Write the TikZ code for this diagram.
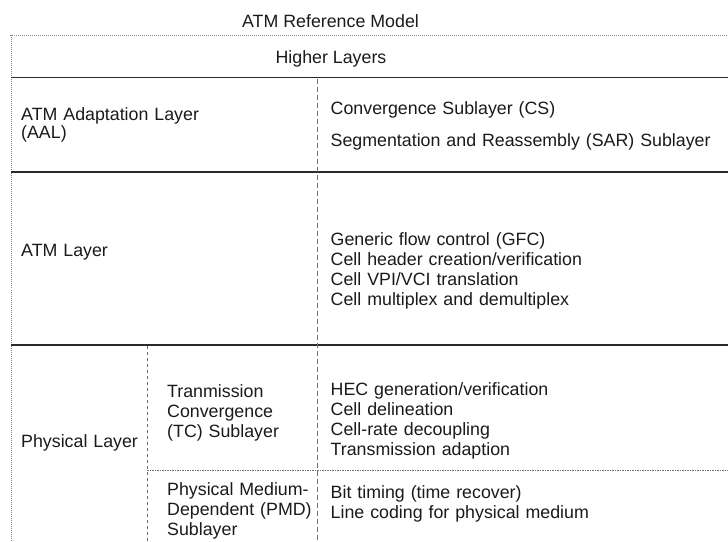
\documentclass[tikz,border=0pt]{standalone}
\usepackage{fontspec}
\setmainfont{Liberation Sans}
\definecolor{ink}{HTML}{1A1A1A}
\definecolor{rulecol}{HTML}{2A2A2A}
\definecolor{edgecol}{HTML}{8A8A8A}
\definecolor{divcol}{HTML}{707070}
\begin{document}
\begin{tikzpicture}[x=1bp,y=-1bp,
  label/.style={font=\fontsize{17.8bp}{20bp}\selectfont, text=ink, inner sep=0pt},
  cell/.style={label, anchor=base west, align=left, text width=400bp},
  outer/.style={draw=edgecol, line width=0.8bp, dash pattern=on 1bp off 1bp},
  layerrule/.style={draw=rulecol, line width=1.8bp},
  column/.style={draw=divcol, line width=0.8bp, dash pattern=on 5bp off 3bp},
  subcolumn/.style={draw=divcol, line width=0.8bp, dash pattern=on 3bp off 3bp},
  subrule/.style={draw=divcol, line width=0.9bp, dash pattern=on 1.5bp off 1bp}]
  \useasboundingbox (0,0) rectangle (728,542);

  % title and top band
  \node[label, anchor=base] (title) at (330.5,27.3) {ATM Reference Model};
  \node[label, anchor=base] (higher) at (331,63.3) {Higher Layers};

  % frame and layer rules
  \draw[outer] (10,35.5) -- (728,35.5);
  \draw[outer] (11,35.5) -- (11,542);
  \draw[layerrule] (11,77.5) -- (728,77.5);
  \draw[layerrule, line width=1.5bp] (11,172) -- (728,172);
  \draw[layerrule, line width=2bp] (11,345) -- (728,345);

  % column dividers
  \draw[column] (317,79) -- (317,542);
  \draw[subcolumn] (147,346) -- (147,542);
  \draw[subrule] (147,470.5) -- (728,470.5);

  % ATM adaptation layer
  \node[cell, font=\fontsize{17.8bp}{16bp}\selectfont] (aal) at (21,121)
    {ATM Adaptation Layer\\(AAL)};
  \node[cell] (cs) at (330.5,115) {Convergence Sublayer (CS)};
  \node[cell] (sar) at (330.5,147) {Segmentation and Reassembly (SAR) Sublayer};

  % ATM layer
  \node[cell] (atm) at (21,257) {ATM Layer};
  \node[cell] (atmfn) at (330.5,245.5)
    {Generic flow control (GFC)\\Cell header creation/verification\\
     Cell VPI/VCI translation\\Cell multiplex and demultiplex};

  % physical layer
  \node[cell] (phy) at (21,447) {Physical Layer};
  \node[cell] (tc) at (167,397.5)
    {Tranmission\\Convergence\\(TC) Sublayer};
  \node[cell] (tcfn) at (330.5,395)
    {HEC generation/verification\\Cell delineation\\
     Cell-rate decoupling\\Transmission adaption};
  \node[cell] (pmd) at (167,495)
    {Physical Medium-\\Dependent (PMD)\\Sublayer};
  \node[cell] (pmdfn) at (330.5,498.5)
    {Bit timing (time recover)\\Line coding for physical medium};
\end{tikzpicture}
\end{document}
